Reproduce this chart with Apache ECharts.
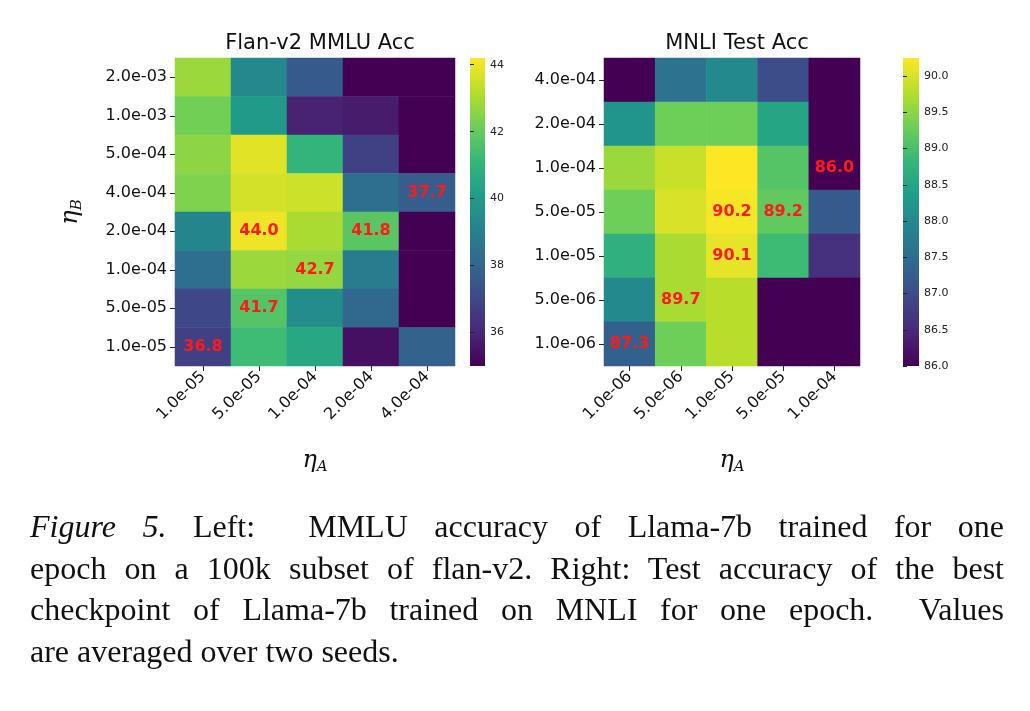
<!DOCTYPE html>
<html><head><meta charset="utf-8">
<script src="https://cdn.jsdelivr.net/npm/echarts@6/dist/echarts.min.js"></script>
<style>body{margin:0;background:#fff}#c{width:1030px;height:711px;position:absolute;left:0;top:0}
#cap{position:absolute;left:30px;top:506px;width:974px;font-family:"Liberation Serif",serif;font-size:32px;line-height:41.5px;color:#111}
#cap div{text-align:justify;text-align-last:justify;white-space:nowrap}
#cap div.l{text-align-last:left}</style>
</head><body><div id="c"></div>
<div id="cap"><div><i>Figure 5.</i> Left: &nbsp;MMLU accuracy of Llama-7b trained for one</div>
<div>epoch on a 100k subset of flan-v2. Right: Test accuracy of the best</div>
<div>checkpoint of Llama-7b trained on MNLI for one epoch. &nbsp;Values</div>
<div class="l">are averaged over two seeds.</div></div>
<script>
const leftX = ['1.0e-05','5.0e-05','1.0e-04','2.0e-04','4.0e-04'];
const leftY = ['2.0e-03','1.0e-03','5.0e-04','4.0e-04','2.0e-04','1.0e-04','5.0e-05','1.0e-05'];
const leftVals = [
 [42.8,39.3,37.6,35.0,35.0],
 [42.2,40.0,35.9,35.7,35.0],
 [42.6,43.8,41.0,36.8,35.0],
 [42.4,43.6,43.5,38.3,37.7],
 [39.2,44.0,43.0,41.8,35.0],
 [38.3,42.8,42.7,38.8,35.0],
 [37.0,41.7,39.5,38.1,35.0],
 [36.8,41.3,40.5,35.4,37.9]];
const leftShown = [[3,4],[4,1],[4,3],[5,2],[6,1],[7,0]];
const rightX = ['1.0e-06','5.0e-06','1.0e-05','5.0e-05','1.0e-04'];
const rightY = ['4.0e-04','2.0e-04','1.0e-04','5.0e-05','1.0e-05','5.0e-06','1.0e-06'];
const rightVals = [
 [86.0,87.6,88.0,87.0,86.0],
 [88.2,89.3,89.3,88.5,86.0],
 [89.6,89.9,90.25,89.1,86.0],
 [89.3,90.0,90.2,89.2,87.2],
 [88.7,89.7,90.1,88.9,86.6],
 [88.0,89.7,89.8,86.0,86.0],
 [87.3,89.3,89.8,86.0,86.0]];
const rightShown = [[2,4],[3,2],[3,3],[4,2],[5,1],[6,0]];
const leftTicks = [36,38,40,42,44];
const rightTicks = [86.0,86.5,87.0,87.5,88.0,88.5,89.0,89.5,90.0];

const viridis = ['#440154','#482878','#3e4989','#31688e','#26828e','#1f9e89','#35b779','#6ece58','#b5de2b','#fde725'];
function build(vals, shown){
  const out=[];
  vals.forEach((r,i)=>r.forEach((v,j)=>{
    const s = shown.some(p=>p[0]===i&&p[1]===j);
    out.push({value:[j,i,v],label:{show:s}});
  }));
  return out;
}
const F='DejaVu Sans';
const rich={e:{fontFamily:'DejaVu Serif',fontStyle:'italic',fontSize:24,color:'#111'},s:{fontFamily:'DejaVu Serif',fontStyle:'italic',fontSize:15,padding:[14,0,0,0],color:'#111'}};
function catAxes(gi, xs, ys){
  return [{type:'category',gridIndex:gi,data:xs,axisLine:{show:false},axisTick:{show:true,length:5,alignWithLabel:true,lineStyle:{color:'#222'}},
    axisLabel:{rotate:45,fontFamily:F,fontSize:16,color:'#111',margin:8},
    name:'{e|η}{s|A}',nameLocation:'middle',nameGap:80,nameTextStyle:{rich:rich}},
   {type:'category',gridIndex:gi,data:ys,inverse:true,axisLine:{show:false},axisTick:{show:true,length:5,alignWithLabel:true,lineStyle:{color:'#222'}},
    axisLabel:{fontFamily:F,fontSize:16,color:'#111',margin:8}}];
}
const xA=[], yA=[];
let a=catAxes(0,leftX,leftY); xA.push(a[0]); yA.push(a[1]);
yA[0].name='{e|η}{s|B}'; yA[0].nameLocation='middle'; yA[0].nameGap=90; yA[0].nameRotate=90;
yA[0].nameTextStyle={rich:rich};
a=catAxes(1,rightX,rightY); xA.push(a[0]); yA.push(a[1]);
function cbAxes(gi,min,max,ticks,dec){
  xA.push({type:'value',gridIndex:gi,show:false,min:0,max:1});
  yA.push({type:'value',gridIndex:gi,position:'right',min:min,max:max,splitLine:{show:false},axisLine:{show:false},
    axisLabel:{fontFamily:F,fontSize:11,color:'#222',margin:5,customValues:ticks,formatter:v=>v.toFixed(dec)},
    axisTick:{show:true,inside:false,length:4,customValues:ticks,lineStyle:{color:'#222'}}});
}
cbAxes(2,35.0,44.2,leftTicks,0);
cbAxes(3,86.0,90.25,rightTicks,1);
const lbl={color:'#ff1a1a',fontFamily:F,fontWeight:'bold',fontSize:16,formatter:p=>p.value[2].toFixed(1)};
function grad(){
  return new echarts.graphic.LinearGradient(0,1,0,0,viridis.map((c,i)=>({offset:i/(viridis.length-1),color:c})));
}
const opt={
  animation:false,
  title:[{text:'Flan-v2 MMLU Acc',left:315,top:28,textAlign:'center',textStyle:{fontFamily:F,fontSize:21,fontWeight:'normal',color:'#111'}},
         {text:'MNLI Test Acc',left:732,top:28,textAlign:'center',textStyle:{fontFamily:F,fontSize:21,fontWeight:'normal',color:'#111'}}],
  grid:[{left:175,top:58,width:280,height:308},{left:604,top:58,width:256,height:308},
        {left:470,top:58,width:15,height:308},{left:903,top:58,width:16,height:308}],
  xAxis:xA,yAxis:yA,
  graphic:[{type:'rect',left:470,top:58,shape:{width:15,height:308},style:{fill:grad()},z:-1},
           {type:'rect',left:903,top:58,shape:{width:16,height:308},style:{fill:grad()},z:-1}],
  visualMap:[{type:'continuous',show:false,seriesIndex:0,min:35.0,max:44.2,inRange:{color:viridis}},
             {type:'continuous',show:false,seriesIndex:1,min:86.0,max:90.25,inRange:{color:viridis}}],
  series:[{type:'heatmap',xAxisIndex:0,yAxisIndex:0,data:build(leftVals,leftShown),label:lbl},
          {type:'heatmap',xAxisIndex:1,yAxisIndex:1,data:build(rightVals,rightShown),label:lbl}]
};
const ch=echarts.init(document.getElementById('c'));
ch.setOption(opt);
</script></body></html>
